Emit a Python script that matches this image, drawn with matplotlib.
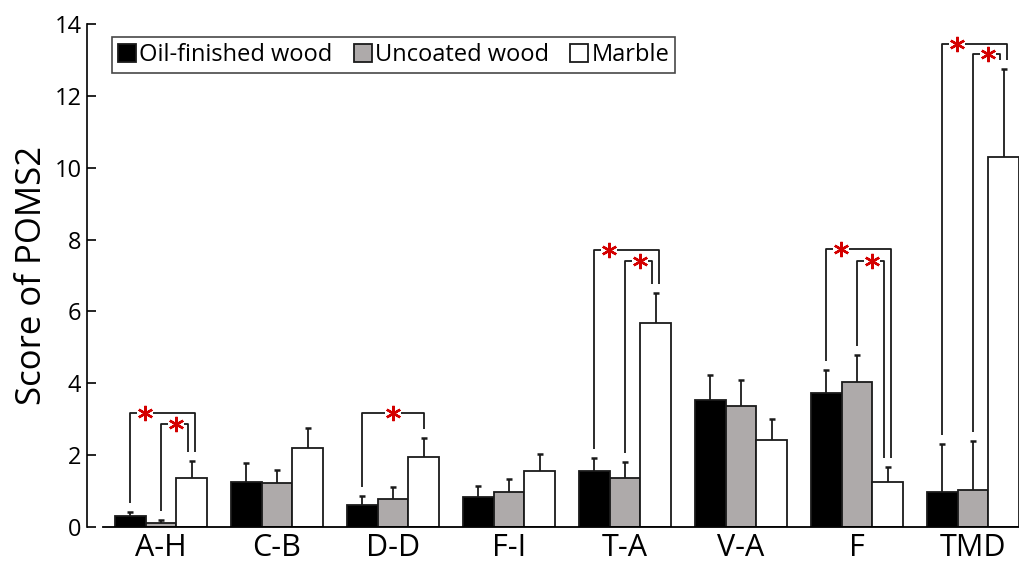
import matplotlib
matplotlib.use("Agg")
import matplotlib.pyplot as plt
import numpy as np

plt.rcParams['font.family'] = ['Open Sans', 'DejaVu Sans']

# data
categories = ['A-H', 'C-B', 'D-D', 'F-I', 'T-A', 'V-A', 'F', 'TMD']
series = ['Oil-finished wood', 'Uncoated wood', 'Marble']
oil = [0.30, 1.26, 0.61, 0.83, 1.55, 3.53, 3.73, 0.98]
oil_err = [0.11, 0.51, 0.25, 0.32, 0.38, 0.70, 0.64, 1.33]
uncoated = [0.12, 1.22, 0.77, 0.97, 1.37, 3.37, 4.04, 1.04]
uncoated_err = [0.07, 0.36, 0.34, 0.37, 0.44, 0.72, 0.75, 1.36]
marble = [1.36, 2.19, 1.94, 1.55, 5.68, 2.42, 1.25, 10.30]
marble_err = [0.47, 0.56, 0.54, 0.47, 0.83, 0.58, 0.42, 2.45]

# significance brackets: (category, group compared with marble, bracket height)
sig_cat = [0, 0, 2, 4, 4, 6, 6, 7, 7]
sig_grp = [0, 1, 0, 0, 1, 0, 1, 0, 1]
sig_top = [3.17, 2.87, 3.17, 7.72, 7.40, 7.74, 7.40, 13.44, 13.16]

values = [oil, uncoated, marble]
errors = [oil_err, uncoated_err, marble_err]
colors = ['#000000', '#aeaaaa', '#ffffff']

fig = plt.figure(figsize=(10.19, 5.63), dpi=100)
ax = fig.add_axes([0.0854, 0.064, 0.9146, 0.893])

x = np.arange(len(categories))
w = 0.265
offsets = [-w, 0, w]
for vals, errs, col, off, name in zip(values, errors, colors, offsets, series):
    # error bars sit behind the bars so only the upper half shows
    ax.errorbar(x + off, vals, yerr=errs, fmt='none',
                ecolor='#1a1a1a', elinewidth=1.3, capsize=2.5, capthick=1.8,
                zorder=1)
    ax.bar(x + off, vals, w, color=col, edgecolor='#1a1a1a', linewidth=1.3,
           label=name, zorder=2)

# brackets with red stars
gap = 0.25
for c, g, top in zip(sig_cat, sig_grp, sig_top):
    n = sig_cat.count(c)
    xl = c + offsets[g]
    if n == 1:
        xr = c + offsets[2]
    else:
        xr = c + offsets[2] + (0.03 if g == 0 else -0.03)
    yl = values[g][c] + errors[g][c] + gap
    yr = marble[c] + marble_err[c] + gap
    xs = (xl + xr) / 2 if n == 1 else xl + 0.13
    ax.plot([xl, xl, xs - 0.07], [yl, top, top], color='#1a1a1a', lw=1.3,
            zorder=3, solid_capstyle='butt')
    ax.plot([xs + 0.07, xr, xr], [top, top, yr], color='#1a1a1a', lw=1.3,
            zorder=3, solid_capstyle='butt')
    ax.plot(xs, top, marker=(6, 2, 0), markersize=11, mew=1.7,
            color='#d40000', zorder=4)

ax.set_xlim(-0.638, 7.397)
ax.set_ylim(0, 14)
ax.set_yticks(np.arange(0, 15, 2))
ax.set_xticks(x)
ax.set_xticklabels(categories, fontsize=22)
ax.tick_params(axis='x', length=0, pad=4)
ax.tick_params(axis='y', direction='in', length=6.5, width=1.2, labelsize=17, pad=4)
for s in ['top', 'right']:
    ax.spines[s].set_visible(False)
ax.spines['left'].set_linewidth(1.2)
ax.spines['bottom'].set_linewidth(1.3)
ax.spines['bottom'].set_bounds(-0.5, 7.5)
ax.set_ylabel('Score of POMS2', fontsize=25, labelpad=4)

leg = ax.legend(loc='upper left', bbox_to_anchor=(0.027, 0.974), ncol=3,
                fontsize=17, frameon=True, fancybox=False, borderaxespad=0,
                handlelength=0.75, handleheight=0.75, handletextpad=0.15,
                columnspacing=0.9, borderpad=0.25)
leg.get_frame().set_edgecolor('#1a1a1a')
leg.get_frame().set_linewidth(1.2)

fig.savefig('out.png', dpi=100)
